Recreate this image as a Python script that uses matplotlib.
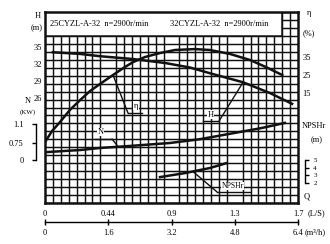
import numpy as np
import matplotlib
import matplotlib.pyplot as plt
from matplotlib.patches import Rectangle

matplotlib.use("agg")

# values (Q in m3/h)
q_head = [0.20, 0.89, 1.39, 2.23, 3.04, 3.67, 4.17, 5.01, 5.69, 6.25]
head = [34.1, 33.8, 33.4, 32.9, 32.2, 31.4, 30.4, 28.8, 26.9, 25.0]

q_eff = [0.0, 0.18, 0.38, 0.63, 0.89, 1.14, 1.39, 1.72, 2.02, 2.23,
         2.53, 2.91, 3.29, 3.79, 4.17, 4.68, 5.19, 5.59, 6.0]
eff = [-12.2, -6.1, -1.1, 5.6, 11.1, 16.1, 20.0, 25.0, 29.4, 32.2,
       35.0, 37.2, 38.9, 39.4, 38.9, 36.7, 33.3, 29.4, 25.0]

q_power = [0.05, 0.89, 1.39, 2.15, 3.16, 3.92, 4.68, 5.44, 6.07]
power = [0.35, 0.44, 0.53, 0.62, 0.75, 0.82, 0.92, 1.02, 1.12]

q_npsh = [2.91, 3.54, 4.17, 4.60]
npshr = [2.78, 3.30, 3.96, 4.61]

q_ticks = [0, 1.6, 3.2, 4.8, 6.4]
q_labels_ls = ["0", "0.44", "0.9", "1.3", "1.7"]
q_labels_m3h = ["0", "1.6", "3.2", "4.8", "6.4"]
head_ticks = [26, 29, 32, 35]
eff_ticks = [15, 25, 35]
power_ticks = [0, 0.75, 1.1]
power_labels = ["0", "0.75", "1.1"]
npsh_ticks = [2, 3, 4, 5]
titles = ["25CYZL-A-32  n=2900r/min", "32CYZL-A-32  n=2900r/min"]

# the N scale on the chart is not linear, map it piecewise
p_knots = [-100, 0, 0.75, 1.1, 100]
u_knots = [-2266.7, 0, 17, 36, 5405.0]


def p_fwd(v):
    return np.interp(v, p_knots, u_knots)


def p_inv(u):
    return np.interp(u, u_knots, p_knots)


plt.rcParams["font.family"] = ["Liberation Serif", "DejaVu Serif"]
plt.rcParams["font.size"] = 6

W, H = 330, 244
fig = plt.figure(figsize=(3.3, 2.44), dpi=100)
ax = fig.add_axes([45 / W, 1 - 203 / H, 253 / W, 191 / H])


def px(x, y):
    return x / W, 1 - y / H


ink = "#111111"
curve_lw = 1.8
ax.set_xlim(0, 6.4)
ax.set_ylim(7.5, 41.2)
ax.set_axisbelow(True)
ax.set_xticks(np.linspace(0, 6.4, 33), minor=True)
ax.set_yticks(np.linspace(7.5, 41.2, 25), minor=True)
ax.grid(which="minor", color=ink, lw=1.05)
ax.tick_params(which="minor", length=0)
ax.set_xticks(q_ticks, labels=q_labels_ls)
ax.set_yticks(head_ticks)
ax.tick_params(axis="x", length=0, pad=5)
ax.tick_params(axis="y", length=0, pad=2)
for s in ax.spines.values():
    s.set_linewidth(1.8)
    s.set_color(ink)

# title box over the top rows of the grid
ax.add_patch(Rectangle((0, 21 / 24), 30 / 32, 3 / 24, transform=ax.transAxes,
                       facecolor="white", edgecolor=ink, lw=1.1, zorder=1.5))
ax.text(0.02, 0.9375, titles[0], transform=ax.transAxes, va="center", fontsize=6)
ax.text(0.494, 0.9375, titles[1], transform=ax.transAxes, va="center", fontsize=6)

ax.plot(q_head, head, color=ink, lw=curve_lw)

ax_eff = ax.twinx()
ax_eff.set_ylim(-46.1, 60)
ax_eff.set_yticks(eff_ticks)
ax_eff.tick_params(axis="y", length=0, pad=3)
for s in ax_eff.spines.values():
    s.set_visible(False)
ax_eff.plot(q_eff, eff, color=ink, lw=curve_lw)

ax_pow = ax.twinx()
ax_pow.set_yscale("function", functions=(p_fwd, p_inv))
ax_pow.set_ylim(-1.897, 3.163)
ax_pow.yaxis.set_ticks_position("left")
ax_pow.set_yticks(power_ticks, labels=power_labels)
ax_pow.yaxis.set_minor_locator(matplotlib.ticker.NullLocator())
ax_pow.tick_params(axis="y", direction="out", length=3, width=1, pad=6)
for name, s in ax_pow.spines.items():
    s.set_visible(name == "left")
ax_pow.spines["left"].set_position(("outward", 6.5))
ax_pow.spines["left"].set_bounds(0, 1.1)
ax_pow.spines["left"].set_linewidth(1)
ax_pow.plot(q_power, power, color=ink, lw=curve_lw)

ax_npsh = ax.twinx()
ax_npsh.set_ylim(-0.6, 24.3)
ax_npsh.set_yticks(npsh_ticks)
ax_npsh.tick_params(axis="y", direction="out", length=3, width=1, pad=3,
                    labelsize=5)
for name, s in ax_npsh.spines.items():
    s.set_visible(name == "right")
ax_npsh.spines["right"].set_position(("outward", 5))
ax_npsh.spines["right"].set_bounds(2, 5)
ax_npsh.spines["right"].set_linewidth(1)
ax_npsh.plot(q_npsh, npshr, color=ink, lw=curve_lw)

# second flow scale in m3/h below the grid
ax_m3 = ax.twiny()
ax_m3.set_xlim(0, 6.4)
ax_m3.xaxis.set_ticks_position("bottom")
ax_m3.set_xticks(q_ticks, labels=q_labels_m3h)
ax_m3.tick_params(axis="x", direction="inout", length=4, width=1, pad=3)
for name, s in ax_m3.spines.items():
    s.set_visible(name == "bottom")
ax_m3.spines["bottom"].set_position(("outward", 13.7))
ax_m3.spines["bottom"].set_linewidth(1)


def leader(axis, label, point, corner, end_x, text_pos, size=6):
    axis.annotate("", xy=point, xycoords="data", xytext=corner,
                  textcoords="axes fraction",
                  arrowprops=dict(arrowstyle="-", lw=1.0, color=ink,
                                  shrinkA=0, shrinkB=0))
    axis.plot([corner[0], end_x], [corner[1], corner[1]],
              transform=axis.transAxes, color=ink, lw=1.0)
    axis.text(text_pos[0], text_pos[1], label, transform=axis.transAxes,
              ha="center", va="center", fontsize=size,
              bbox=dict(facecolor="white", edgecolor="none", pad=0.3))


leader(ax_eff, "η", (q_eff[7], eff[7]), (0.328, 0.471), 0.383, (0.36, 0.51))
leader(ax, "H", (q_head[7], head[7]), (0.688, 0.429), 0.625, (0.656, 0.463))
leader(ax_pow, "N", (1.85, np.interp(1.85, q_power, power)),
       (0.265, 0.335), 0.198, (0.221, 0.372))
leader(ax_npsh, "NPSHr", (3.74, np.interp(3.74, q_npsh, npshr)),
       (0.680, 0.058), 0.810, (0.743, 0.089), size=5.5)

# axis captions around the frame
fig.text(*px(38, 16), "H", ha="center", va="center")
fig.text(*px(37, 28), "(m)", ha="center", va="center")
fig.text(*px(28, 101), "N", ha="center", va="center")
fig.text(*px(28, 112), "(KW)", ha="center", va="center", fontsize=5)
fig.text(*px(309, 13), "η", ha="center", va="center")
fig.text(*px(309, 33), "(%)", ha="center", va="center")
fig.text(*px(314, 126), "NPSHr", ha="center", va="center")
fig.text(*px(317, 140), "(m)", ha="center", va="center")
fig.text(*px(307, 197), "Q", ha="center", va="center")
fig.text(*px(316, 213), "(L/S)", ha="center", va="center")
fig.text(*px(315, 232), "(m³/h)", ha="center", va="center")

fig.savefig("out.png", dpi=100)
